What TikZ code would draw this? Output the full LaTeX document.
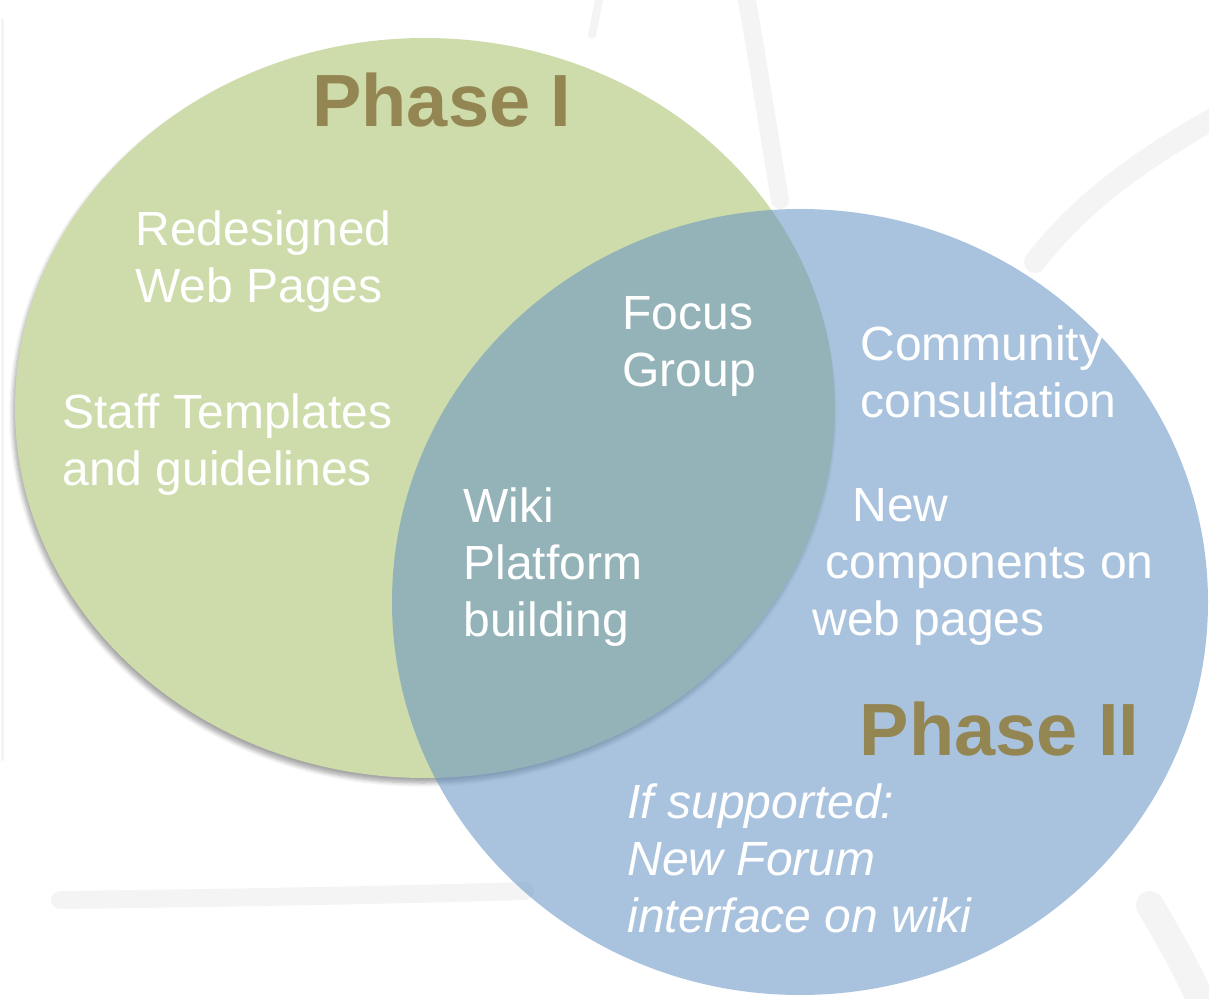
\documentclass[tikz,border=0pt]{standalone}
\usepackage{fontspec}
\setmainfont{Liberation Sans}
\usetikzlibrary{shapes.geometric,shadows.blur}
\definecolor{phasegreen}{RGB}{205,220,170}
\definecolor{phaseblue}{RGB}{102,148,196}
\definecolor{phasetext}{RGB}{148,134,83}
\definecolor{swoosh}{RGB}{244,244,244}
\begin{document}
\begin{tikzpicture}[x=0.5pt,y=-0.5pt]
    \tikzstyle{item} = [anchor=base west, inner sep=0pt, align=left, text=white, font=\fontsize{24}{28.5}\selectfont]
    \tikzstyle{title} = [anchor=base west, inner sep=0pt, text=phasetext, font=\fontsize{37}{40}\selectfont\bfseries]
    \tikzstyle{phase} = [ellipse, draw=none, inner sep=0pt]
    \tikzstyle{band} = [swoosh, line cap=round]
    \useasboundingbox (0,0) rectangle (1209,999);
    % background swooshes
    \draw[band, line width=9pt] (60,900) .. controls (300,897) and (420,894) .. (525,891);
    \draw[band, line width=9pt] (745,-10) .. controls (758,60) and (768,130) .. (780,200);
    \draw[band, line width=4pt] (600,-5) -- (592,35);
    \draw[band, line width=11pt] (1220,115) .. controls (1130,165) and (1075,210) .. (1035,262);
    \draw[band, line width=14pt] (1150,905) .. controls (1170,940) and (1188,970) .. (1205,1010);
    \draw[band, line width=1.5pt] (2,20) -- (2,760);
    % circles
    \node[phase, fill=phasegreen, minimum width=410pt, minimum height=370pt,
        blur shadow={shadow xshift=-1pt, shadow yshift=-2.5pt, shadow opacity=35, shadow blur steps=6}]
        (phaseone) at (425,408) {};
    \node[phase, fill=phaseblue, fill opacity=0.56, minimum width=408pt, minimum height=393pt]
        (phasetwo) at (800,602) {};
    % titles
    \node[title] (titleone) at (312,127) {Phase I};
    \node[title, anchor=base east] (titletwo) at (1140,755) {Phase II};
    % phase I
    \node[item] (webpages) at (135,303) {Redesigned\\Web Pages};
    \node[item] (templates) at (62,486) {Staff Templates\\and guidelines};
    % overlap
    \node[item] (focus) at (622,387) {Focus\\Group};
    \node[item] (wiki) at (463,636) {Wiki\\Platform\\building};
    % phase II
    \node[item] (community) at (860,418) {Community\\consultation};
    \node[item] (components) at (812,635) {\hspace{20pt}New\\\hspace{6.5pt}components on\\web pages};
    \node[item, font=\fontsize{24}{28.5}\selectfont\itshape] (forum) at (627,932) {If supported:\\New Forum\\interface on wiki};
\end{tikzpicture}
\end{document}
